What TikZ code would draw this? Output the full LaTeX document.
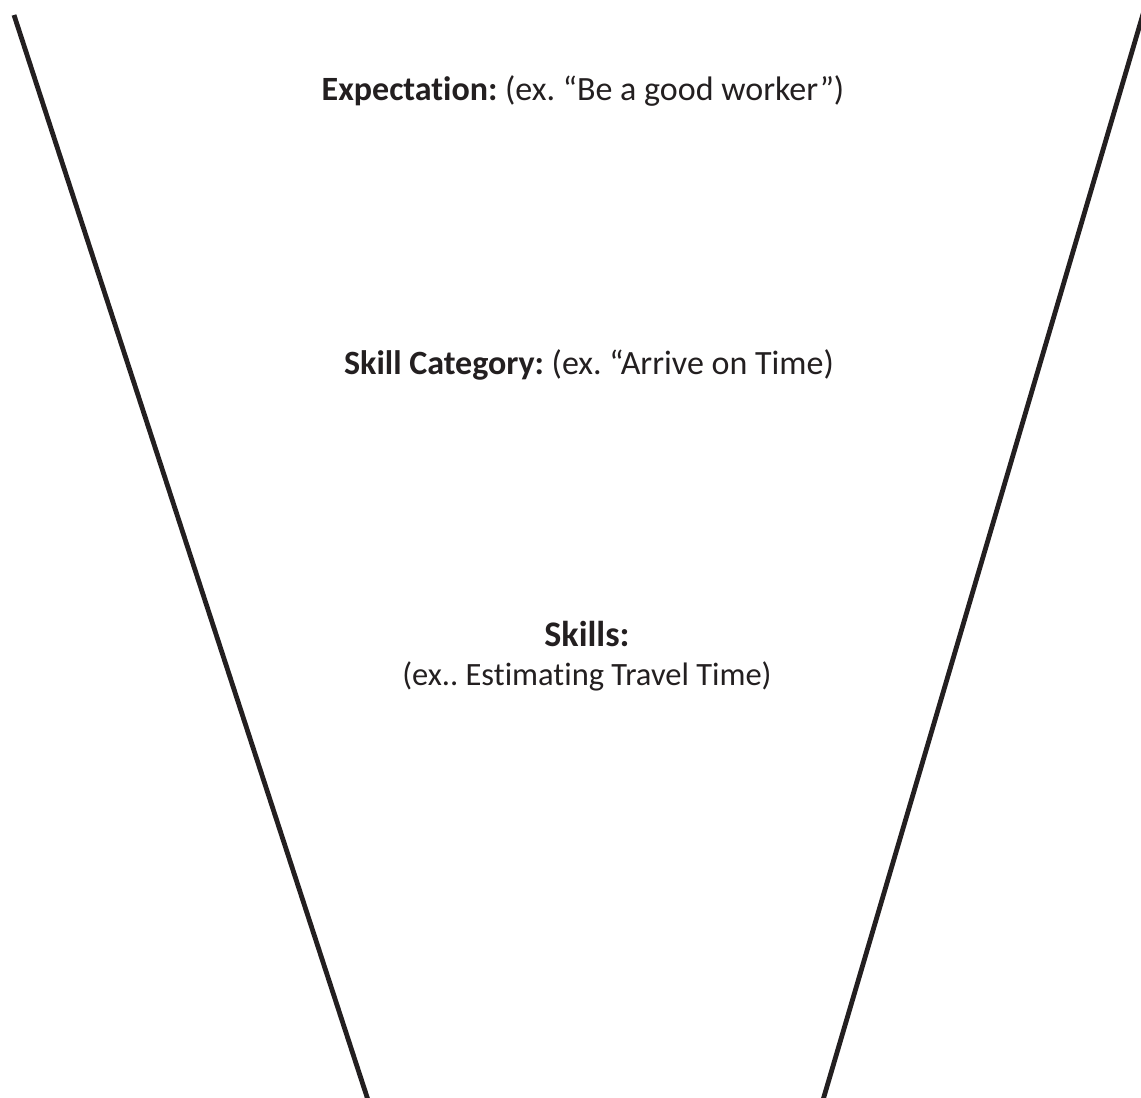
\documentclass[tikz,border=0pt]{standalone}
\usepackage{fontspec}
\setmainfont{Carlito}[Ligatures=NoCommon]
\definecolor{ink}{HTML}{231F20}
\frenchspacing
\begin{document}
\begin{tikzpicture}[x=1pt,y=-1pt,
  funnelside/.style={draw=ink,line width=4.8pt},
  label/.style={text=ink,font=\fontsize{34}{40}\selectfont,inner sep=0pt,anchor=base},
  headlabel/.style={label,font=\fontsize{36}{40}\selectfont\bfseries},
  smalllabel/.style={label,font=\fontsize{32.5}{40}\selectfont}]
  \useasboundingbox[fill=white] (0,0) rectangle (1141,1098);
  \begin{scope}
    \clip (0,0) rectangle (1141,1098);
    % funnel sides
    \coordinate (ltop) at (14,15);
    \coordinate (lbot) at (368,1100);
    \coordinate (rtop) at (1146,4);
    \coordinate (rbot) at (823,1100);
    \draw[funnelside] (ltop) -- (lbot);
    \draw[funnelside] (rtop) -- (rbot);
  \end{scope}
  % level labels
  \node[label] (expect) at (583,100) {\textbf{Expectation:} (ex. “Be a good worker”)};
  \node[label] (cat) at (589,374) {\textbf{Skill Category:} (ex. “Arrive on Time)};
  \node[headlabel] (skills) at (587,646) {Skills:};
  \node[smalllabel] (skillsex) at (587,685) {(ex.. Estimating Travel Time)};
\end{tikzpicture}
\end{document}
